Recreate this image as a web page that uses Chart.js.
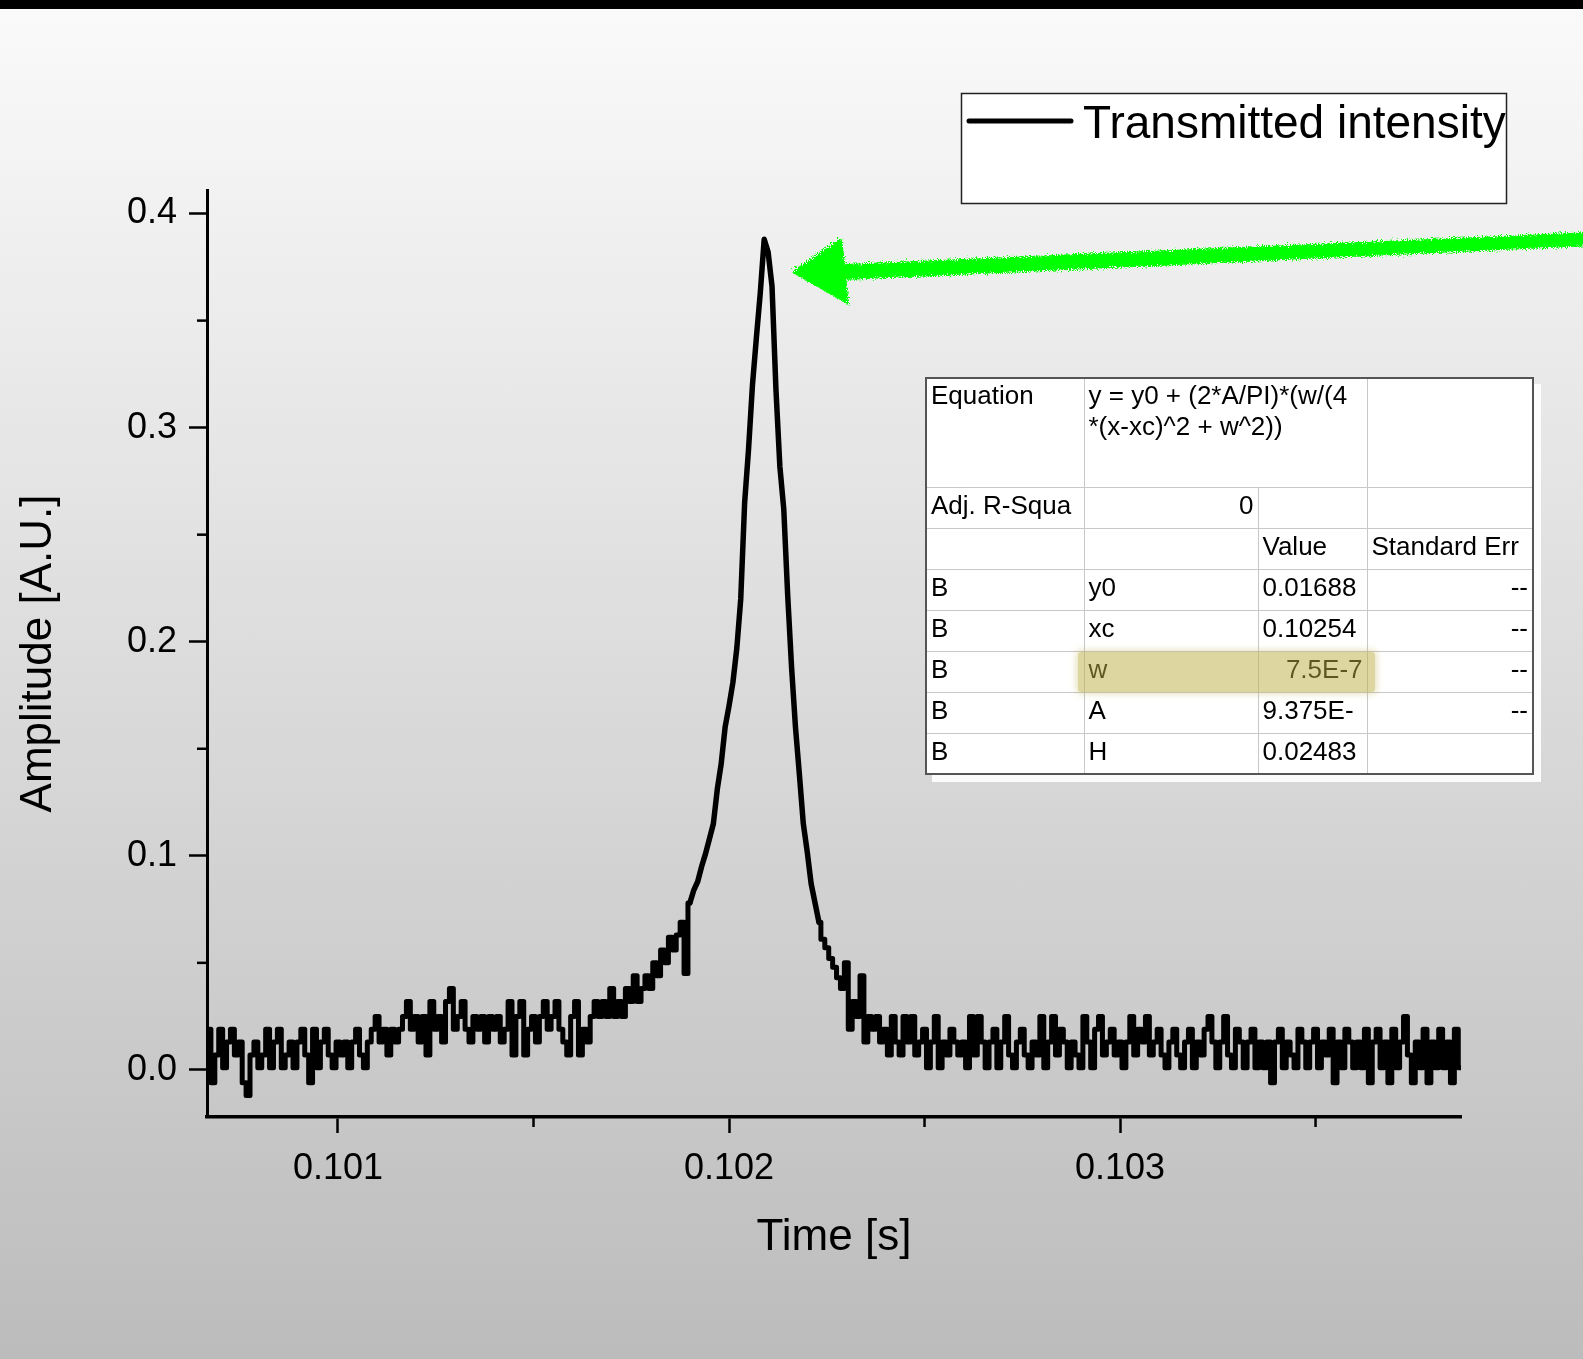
<!DOCTYPE html>
<html>
<head>
<meta charset="utf-8">
<script src="https://cdn.jsdelivr.net/npm/chart.js@4.4.1/dist/chart.umd.min.js"></script>
<style>
  html, body { margin: 0; padding: 0; }
  body {
    width: 1583px; height: 1359px; position: relative; overflow: hidden;
    background: linear-gradient(to bottom, #000 0px, #000 9px, #fafafa 9px, #bcbcbc 100%);
    font-family: 'Liberation Sans', Arial, sans-serif;
  }
  #myChart { position: absolute; left: 0; top: 0; }
  #fit {
    position: absolute; left: 925px; top: 377px; width: 607px;
    border-collapse: collapse; table-layout: fixed; background: #fff;
    border: 2px solid #555; box-shadow: 7px 7px 0 rgba(255,255,255,0.9);
    font-size: 26px; color: #000;
  }
  #fit tr { height: 41px; }
  #fit tr.eq { height: 109px; }
  #fit td {
    border: 1px solid #c8c8c8; padding: 0 4px 4px 4px; white-space: nowrap; overflow: hidden;
    vertical-align: middle; line-height: 31px;
  }
  #fit tr.eq td { vertical-align: top; padding-top: 1px; padding-bottom: 0; }
  #fit td.r { text-align: right; }
  #hl {
    position: absolute; left: 1078px; top: 652px; width: 297px; height: 40px;
    background: rgba(189, 173, 65, 0.5); border-radius: 3px;
    box-shadow: 0 0 6px 2px rgba(189, 173, 65, 0.35);
  }
  #arrow { position: absolute; left: 0; top: 0; pointer-events: none; }
</style>
</head>
<body>
<canvas id="myChart" width="1583" height="1359"></canvas>

<table id="fit">
  <colgroup><col style="width:158px"><col style="width:174px"><col style="width:109px"><col style="width:166px"></colgroup>
  <tr class="eq"><td>Equation</td><td colspan="2">y = y0 + (2*A/PI)*(w/(4<br>*(x-xc)^2 + w^2))</td><td></td></tr>
  <tr><td>Adj. R-Squa</td><td class="r">0</td><td></td><td></td></tr>
  <tr><td></td><td></td><td>Value</td><td>Standard Err</td></tr>
  <tr><td>B</td><td>y0</td><td>0.01688</td><td class="r">--</td></tr>
  <tr><td>B</td><td>xc</td><td>0.10254</td><td class="r">--</td></tr>
  <tr><td>B</td><td>w</td><td class="r">7.5E-7</td><td class="r">--</td></tr>
  <tr><td>B</td><td>A</td><td>9.375E-</td><td class="r">--</td></tr>
  <tr><td>B</td><td>H</td><td>0.02483</td><td></td></tr>
</table>
<div id="hl"></div>

<svg id="arrow" width="1583" height="1359">
  <defs>
    <filter id="rough" x="-5%" y="-50%" width="110%" height="200%">
      <feTurbulence type="fractalNoise" baseFrequency="0.8" numOctaves="2" result="n"/>
      <feDisplacementMap in="SourceGraphic" in2="n" scale="8"/>
    </filter>
  </defs>
  <g fill="#00ff00" filter="url(#rough)">
    <polygon points="1592,232 1592,246 845,280 845,264"/>
    <polygon points="791,272 842,237 849,305"/>
  </g>
</svg>

<script>
// sampled scope trace (one sample every 10 us)
let sampleStart = 0.10067;
let samplePeriod = 0.00001;
let amplitude = [
  0.019, -0.006, 0.007, 0.019, 0.001, 0.013, 0.019, 0.007, 0.013, -0.006,
  -0.012, 0.007, 0.013, 0.001, 0.007, 0.019, 0.001, 0.013, 0.019, 0.001,
  0.007, 0.013, 0.001, 0.013, 0.019, 0.007, -0.006, 0.019, 0.001, 0.013,
  0.019, 0.007, 0.001, 0.013, 0.007, 0.013, 0.001, 0.013, 0.019, 0.007,
  0.001, 0.013, 0.019, 0.025, 0.013, 0.019, 0.007, 0.019, 0.013, 0.019,
  0.025, 0.032, 0.019, 0.025, 0.013, 0.025, 0.007, 0.032, 0.019, 0.025,
  0.013, 0.032, 0.038, 0.019, 0.025, 0.032, 0.019, 0.013, 0.025, 0.019,
  0.025, 0.013, 0.025, 0.019, 0.025, 0.013, 0.019, 0.032, 0.007, 0.025,
  0.032, 0.007, 0.019, 0.025, 0.013, 0.025, 0.032, 0.019, 0.025, 0.032,
  0.019, 0.013, 0.007, 0.025, 0.032, 0.007, 0.019, 0.013, 0.025, 0.032,
  0.025, 0.032, 0.025, 0.038, 0.025, 0.032, 0.025, 0.038, 0.032, 0.044,
  0.032, 0.038, 0.044, 0.038, 0.050, 0.044, 0.056, 0.050, 0.062, 0.056,
  0.063, 0.069, 0.045, 0.078, 0.084, 0.088, 0.095, 0.101, 0.108, 0.115,
  0.131, 0.143, 0.160, 0.170, 0.181, 0.197, 0.220, 0.265, 0.290, 0.320,
  0.342, 0.363, 0.388, 0.382, 0.366, 0.318, 0.282, 0.262, 0.222, 0.188,
  0.160, 0.138, 0.115, 0.102, 0.087, 0.078, 0.069, 0.061, 0.057, 0.052,
  0.048, 0.043, 0.038, 0.050, 0.019, 0.032, 0.025, 0.044, 0.013, 0.025,
  0.019, 0.025, 0.013, 0.019, 0.007, 0.025, 0.013, 0.007, 0.025, 0.013,
  0.025, 0.007, 0.013, 0.019, 0.001, 0.013, 0.025, 0.001, 0.013, 0.007,
  0.019, 0.013, 0.007, 0.013, 0.001, 0.025, 0.007, 0.025, 0.013, 0.001,
  0.013, 0.019, 0.001, 0.013, 0.025, 0.007, 0.001, 0.013, 0.019, 0.007,
  0.001, 0.013, 0.007, 0.025, 0.001, 0.013, 0.025, 0.007, 0.019, 0.013,
  0.001, 0.013, 0.007, 0.001, 0.025, 0.013, 0.001, 0.019, 0.025, 0.007,
  0.013, 0.019, 0.007, 0.013, 0.001, 0.013, 0.025, 0.007, 0.019, 0.013,
  0.025, 0.007, 0.013, 0.019, 0.007, 0.001, 0.013, 0.019, 0.007, 0.001,
  0.013, 0.019, 0.001, 0.013, 0.007, 0.019, 0.025, 0.013, 0.001, 0.013,
  0.025, 0.007, 0.001, 0.019, 0.013, 0.001, 0.013, 0.019, 0.001, 0.013,
  0.001, 0.013, -0.006, 0.013, 0.019, 0.001, 0.013, 0.007, 0.001, 0.019,
  0.013, 0.001, 0.013, 0.019, 0.001, 0.013, 0.007, 0.019, -0.006, 0.013,
  0.001, 0.019, 0.013, 0.001, 0.013, 0.001, 0.019, -0.006, 0.013, 0.019,
  0.001, 0.013, -0.006, 0.019, 0.001, 0.013, 0.025, 0.007, -0.006, 0.013,
  0.001, 0.019, -0.006, 0.013, 0.001, 0.019, 0.001, 0.013, -0.006, 0.019,
  0.001
];
let times = amplitude.map((v, i) => +(sampleStart + i * samplePeriod).toFixed(5));

// on the steep flanks of the peak the trace reads as a smooth line
let peakWindow = [0.10190, 0.10223];

let xTicks = [0.101, 0.102, 0.103];
let xMinor = [0.1015, 0.1025, 0.1035];
let yTicks = [0, 0.1, 0.2, 0.3, 0.4];
let yMinor = [0.05, 0.15, 0.25, 0.35];
let seriesLabel = 'Transmitted intensity';

let family = "'Liberation Sans', Arial, sans-serif";

let inPeak = c => times[c.p0DataIndex] >= peakWindow[0] && times[c.p1DataIndex] <= peakWindow[1];

// short ticks between the labelled ones
let minorTicks = {
  id: 'minorTicks',
  afterDraw(chart) {
    let ctx = chart.ctx, area = chart.chartArea;
    ctx.save();
    ctx.strokeStyle = '#000';
    ctx.lineWidth = 2.5;
    xMinor.forEach(v => {
      let px = chart.scales.x.getPixelForValue(v);
      ctx.beginPath(); ctx.moveTo(px, area.bottom); ctx.lineTo(px, area.bottom + 10); ctx.stroke();
    });
    yMinor.forEach(v => {
      let py = chart.scales.y.getPixelForValue(v);
      ctx.beginPath(); ctx.moveTo(area.left, py); ctx.lineTo(area.left - 10, py); ctx.stroke();
    });
    ctx.restore();
  }
};

// boxed legend like the Origin one
let legendBox = {
  id: 'legendBox',
  afterDraw(chart) {
    let ctx = chart.ctx;
    let ds = chart.data.datasets[0];
    ctx.save();
    ctx.fillStyle = '#fff';
    ctx.fillRect(961, 93, 545, 110);
    ctx.strokeStyle = '#222';
    ctx.lineWidth = 1.5;
    ctx.strokeRect(961.5, 93.5, 545, 110);
    ctx.strokeStyle = '#000';
    ctx.lineWidth = 5;
    ctx.lineCap = 'round';
    ctx.beginPath(); ctx.moveTo(969, 121); ctx.lineTo(1071, 121); ctx.stroke();
    ctx.fillStyle = '#000';
    ctx.font = '46px ' + family;
    ctx.textBaseline = 'alphabetic';
    ctx.fillText(ds.label, 1083, 138);
    ctx.restore();
  }
};

let myChart = document.getElementById('myChart').getContext('2d');

let chart = new Chart(myChart, {
  type: 'line',
  data: {
    labels: times,
    datasets: [{
      // noisy baseline: sample-and-hold look
      label: seriesLabel,
      data: amplitude,
      borderColor: '#000',
      borderWidth: 5,
      pointRadius: 0,
      stepped: 'middle',
      borderJoinStyle: 'round',
      borderCapStyle: 'round',
      segment: { borderColor: c => inPeak(c) ? 'rgba(0,0,0,0)' : '#000' }
    }, {
      // same trace, drawn straight through the peak
      label: seriesLabel,
      data: amplitude,
      borderColor: '#000',
      borderWidth: 5.5,
      pointRadius: 0,
      tension: 0,
      borderJoinStyle: 'round',
      borderCapStyle: 'round',
      segment: { borderColor: c => inPeak(c) ? '#000' : 'rgba(0,0,0,0)' }
    }]
  },
  options: {
    responsive: false,
    animation: false,
    devicePixelRatio: 1,
    layout: { padding: { top: 190, right: 122, left: 0, bottom: 0 } },
    plugins: {
      legend: { display: false },
      tooltip: { enabled: false }
    },
    scales: {
      x: {
        type: 'linear',
        min: 0.100665,
        max: 0.103872,
        afterFit: s => { s.height = 242; },
        afterBuildTicks: s => { s.ticks = xTicks.map(v => ({ value: v })); },
        ticks: {
          font: { size: 36, family: family },
          color: '#000',
          padding: 14,
          maxRotation: 0,
          autoSkip: false,
          callback: v => v.toFixed(3)
        },
        grid: { drawOnChartArea: false, tickLength: 16, tickWidth: 2.5, tickColor: '#000' },
        border: { color: '#000', width: 3.5 },
        title: {
          display: true,
          text: 'Time [s]',
          font: { size: 44, family: family },
          color: '#000',
          padding: { top: 0, bottom: 95 }
        }
      },
      y: {
        min: -0.022,
        max: 0.411,
        afterFit: s => { s.width = 207; },
        afterBuildTicks: s => { s.ticks = yTicks.map(v => ({ value: v })); },
        ticks: {
          font: { size: 36, family: family },
          color: '#000',
          padding: 12,
          callback: v => v.toFixed(1)
        },
        grid: { drawOnChartArea: false, tickLength: 18, tickWidth: 2.5, tickColor: '#000' },
        border: { color: '#000', width: 3 },
        title: {
          display: true,
          text: 'Amplitude [A.U.]',
          font: { size: 44, family: family },
          color: '#000',
          padding: { top: 12, bottom: 0 }
        }
      }
    }
  },
  plugins: [minorTicks, legendBox]
});
</script>
</body>
</html>
